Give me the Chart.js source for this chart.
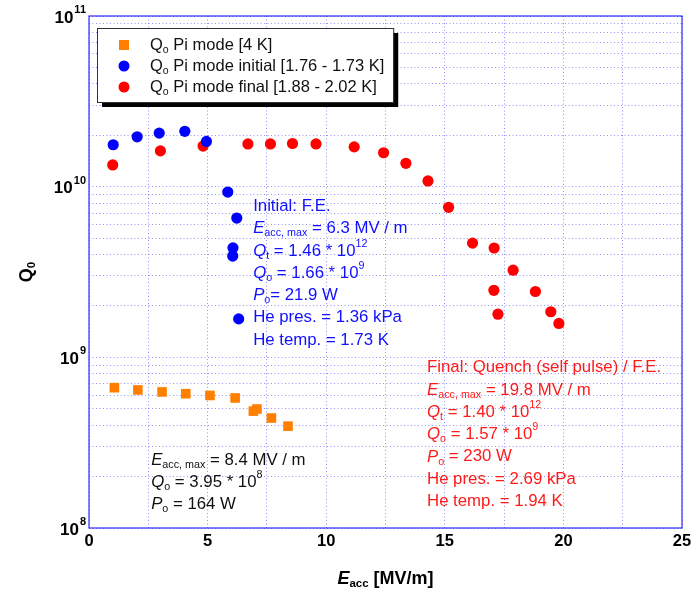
<!DOCTYPE html>
<html lang="en">
<head>
  <meta charset="UTF-8" />
  <title>Q0 vs Eacc</title>
  <script src="https://cdn.jsdelivr.net/npm/chart.js"></script>
  <style>
    body { margin: 0; background: #fff; }
    canvas { display: block; }
  </style>
</head>
<body>
  <canvas id="qChart" width="698" height="594"></canvas>

  <script>
    // data
    const eaccPi4K = [1.07, 2.06, 3.08, 4.08, 5.1, 6.16, 6.93, 7.08, 7.69, 8.39];
    const q0Pi4K = [6.64e8, 6.44e8, 6.27e8, 6.12e8, 5.98e8, 5.78e8, 4.84e8, 4.98e8, 4.41e8, 3.95e8];

    const eaccInitial = [1.02, 2.03, 2.96, 4.04, 4.95, 5.85, 6.23, 6.07, 6.06, 6.31];
    const q0Initial = [1.76e10, 1.96e10, 2.06e10, 2.11e10, 1.84e10, 9.3e9, 6.55e9, 4.38e9, 3.92e9, 1.68e9];

    const eaccFinal = [1.0, 3.01, 4.81, 6.7, 7.65, 8.58, 9.57, 11.18, 12.42, 13.36, 14.29, 15.16,
                       16.17, 17.08, 17.88, 17.07, 18.82, 17.24, 19.47, 19.81];
    const q0Final = [1.34e10, 1.62e10, 1.73e10, 1.78e10, 1.78e10, 1.79e10, 1.78e10, 1.71e10, 1.58e10,
                     1.37e10, 1.08e10, 7.57e9, 4.67e9, 4.37e9, 3.24e9, 2.47e9, 2.43e9, 1.79e9, 1.85e9, 1.58e9];

    const seriesLabels = ['Pi mode [4 K]', 'Pi mode initial [1.76 - 1.73 K]', 'Pi mode final [1.88 - 2.02 K]'];
    const yDecades = [8, 9, 10, 11];

    // annotation text: [text, style] with style '' | 'i' | 'sub' | 'sup'
    const initialNotes = [
      [['Initial: F.E.', '']],
      [['E', 'i'], ['acc, max', 'sub'], [' = 6.3 MV / m', '']],
      [['Q', 'i'], ['t', 'sub'], [' = 1.46 * 10', ''], ['12', 'sup']],
      [['Q', 'i'], ['o', 'sub'], [' = 1.66 * 10', ''], ['9', 'sup']],
      [['P', 'i'], ['o', 'sub'], ['= 21.9 W', '']],
      [['He pres. = 1.36 kPa', '']],
      [['He temp. = 1.73 K', '']]
    ];
    const finalNotes = [
      [['Final: Quench (self pulse) / F.E.', '']],
      [['E', 'i'], ['acc, max', 'sub'], [' = 19.8 MV / m', '']],
      [['Q', 'i'], ['t', 'sub'], [' = 1.40 * 10', ''], ['12', 'sup']],
      [['Q', 'i'], ['o', 'sub'], [' = 1.57 * 10', ''], ['9', 'sup']],
      [['P', 'i'], ['o', 'sub'], [' = 230 W', '']],
      [['He pres. = 2.69 kPa', '']],
      [['He temp. = 1.94 K', '']]
    ];
    const warmNotes = [
      [['E', 'i'], ['acc, max', 'sub'], [' = 8.4 MV / m', '']],
      [['Q', 'i'], ['o', 'sub'], [' = 3.95 * 10', ''], ['8', 'sup']],
      [['P', 'i'], ['o', 'sub'], [' = 164 W', '']]
    ];

    const FONT = '"Liberation Sans", Arial, sans-serif';
    const GRID = 'rgba(70,70,255,0.6)';

    function toPoints(xs, ys) {
      return xs.map((x, i) => ({ x, y: ys[i] }));
    }

    function richText(ctx, x, y, parts, size, bold) {
      let cx = x;
      const w = bold ? 'bold ' : '';
      parts.forEach(([t, k]) => {
        let f = size, dy = 0, it = '';
        if (k === 'i') it = 'italic ';
        if (k === 'sub') { f = size * 0.64; dy = size * 0.28; }
        if (k === 'sup') { f = size * 0.64; dy = -size * 0.42; }
        ctx.font = `${it}${w}${f}px ${FONT}`;
        ctx.fillText(t, cx, y + dy);
        cx += ctx.measureText(t).width;
      });
      return cx - x;
    }

    function textWidth(ctx, parts, size, bold) {
      let wsum = 0;
      const w = bold ? 'bold ' : '';
      parts.forEach(([t, k]) => {
        let f = size, it = '';
        if (k === 'i') it = 'italic ';
        if (k === 'sub' || k === 'sup') f = size * 0.64;
        ctx.font = `${it}${w}${f}px ${FONT}`;
        wsum += ctx.measureText(t).width;
      });
      return wsum;
    }

    const decorPlugin = {
      id: 'decor',
      beforeDatasetsDraw(chart) {
        const { ctx, chartArea: a } = chart;
        ctx.save();
        ctx.strokeStyle = '#2a2aff';
        ctx.lineWidth = 1.2;
        ctx.strokeRect(a.left, a.top, a.right - a.left, a.bottom - a.top);
        ctx.restore();
      },
      afterDraw(chart) {
        const { ctx, chartArea: a, scales } = chart;
        const xs = scales.x, ys = scales.y;
        ctx.save();
        ctx.textBaseline = 'middle';

        // y tick labels 10^n
        ctx.fillStyle = '#000';
        yDecades.forEach(n => {
          const py = ys.getPixelForValue(Math.pow(10, n));
          ctx.font = `bold 17px ${FONT}`;
          const bw = ctx.measureText('10').width;
          ctx.font = `bold 11px ${FONT}`;
          const sw = ctx.measureText(String(n)).width;
          const right = a.left - 3;
          ctx.font = `bold 17px ${FONT}`;
          ctx.fillText('10', right - sw - bw - 1, py + 2);
          ctx.font = `bold 11px ${FONT}`;
          ctx.fillText(String(n), right - sw, py - 6);
        });

        // x axis title
        const xTitle = [['E', 'i'], ['acc', 'sub'], [' [MV/m]', '']];
        const xtw = textWidth(ctx, xTitle, 18, true);
        richText(ctx, (a.left + a.right) / 2 - xtw / 2, 579, xTitle, 18, true);

        // y axis title
        ctx.save();
        ctx.translate(27, (a.top + a.bottom) / 2);
        ctx.rotate(-Math.PI / 2);
        const yTitle = [['Q', ''], ['0', 'sub']];
        const ytw = textWidth(ctx, yTitle, 18, true);
        richText(ctx, -ytw / 2, 0, yTitle, 18, true);
        ctx.restore();

        // legend
        const lsize = 16.5;
        const legendRows = chart.data.datasets.map(ds => [['Q', ''], ['o', 'sub'], [' ' + ds.label, '']]);
        const maxW = Math.max(...legendRows.map(r => textWidth(ctx, r, lsize, false)));
        const bx = a.left + 8, by = a.top + 12;
        const bw = 53 + maxW + 9, bh = 74;
        ctx.fillStyle = '#000';
        ctx.fillRect(bx + 5, by + 5, bw, bh);
        ctx.fillStyle = '#fff';
        ctx.fillRect(bx, by, bw, bh);
        ctx.strokeStyle = '#333';
        ctx.lineWidth = 1;
        ctx.strokeRect(bx + 0.5, by + 0.5, bw, bh);
        chart.data.datasets.forEach((ds, i) => {
          const cy = by + 17 + i * 21;
          ctx.fillStyle = ds.backgroundColor;
          if (ds.pointStyle === 'rect') {
            ctx.fillRect(bx + 27 - 5, cy - 5, 10, 10);
          } else {
            ctx.beginPath();
            ctx.arc(bx + 27, cy, 5.5, 0, Math.PI * 2);
            ctx.fill();
          }
          ctx.fillStyle = '#111';
          richText(ctx, bx + 53, cy, legendRows[i], lsize, false);
        });

        // annotation blocks, anchored in data units
        const blocks = [
          { lines: initialNotes, x: 6.92, y: 7.67e9, color: '#1010ff' },
          { lines: finalNotes, x: 14.25, y: 8.7e8, color: '#ff1a1a' },
          { lines: warmNotes, x: 2.62, y: 2.5e8, color: '#111' }
        ];
        blocks.forEach(b => {
          const px = xs.getPixelForValue(b.x);
          const py = ys.getPixelForValue(b.y);
          ctx.fillStyle = b.color;
          b.lines.forEach((ln, i) => richText(ctx, px, py + i * 22.3, ln, 16.8, false));
        });
        ctx.restore();
      }
    };

    const gridStyle = { color: GRID, lineWidth: 1, drawTicks: false };
    const borderStyle = { display: false, dash: [1, 2.5] };

    new Chart(document.getElementById('qChart'), {
      type: 'scatter',
      data: {
        datasets: [
          {
            label: seriesLabels[0],
            data: toPoints(eaccPi4K, q0Pi4K),
            backgroundColor: '#ff8000',
            pointStyle: 'rect',
            pointRadius: 6.8,
            pointBorderWidth: 0
          },
          {
            label: seriesLabels[1],
            data: toPoints(eaccInitial, q0Initial),
            backgroundColor: '#0000ff',
            pointStyle: 'circle',
            pointRadius: 5.6,
            pointBorderWidth: 0
          },
          {
            label: seriesLabels[2],
            data: toPoints(eaccFinal, q0Final),
            backgroundColor: '#ff0000',
            pointStyle: 'circle',
            pointRadius: 5.6,
            pointBorderWidth: 0
          }
        ]
      },
      options: {
        responsive: false,
        animation: false,
        layout: { padding: { top: 16, right: 16, left: 0, bottom: 0 } },
        plugins: {
          legend: { display: false },
          tooltip: { enabled: false }
        },
        scales: {
          x: {
            type: 'linear',
            min: 0,
            max: 25,
            grid: gridStyle,
            border: borderStyle,
            ticks: {
              stepSize: 2.5,
              autoSkip: false,
              maxRotation: 0,
              padding: 4,
              color: '#000',
              font: { family: FONT, size: 16.5, weight: 'bold' },
              callback: v => (v % 5 === 0 ? v : '')
            },
            afterFit: s => { s.height = 66; }
          },
          y: {
            type: 'logarithmic',
            min: 1e8,
            max: 1e11,
            grid: gridStyle,
            border: borderStyle,
            ticks: { display: false },
            afterBuildTicks: s => {
              const t = [];
              for (let e = 8; e < 11; e++) {
                for (let k = 1; k < 10; k++) t.push({ value: k * Math.pow(10, e) });
              }
              t.push({ value: 1e11 });
              s.ticks = t;
            },
            afterFit: s => { s.width = 89; }
          }
        }
      },
      plugins: [decorPlugin]
    });
  </script>
</body>
</html>
